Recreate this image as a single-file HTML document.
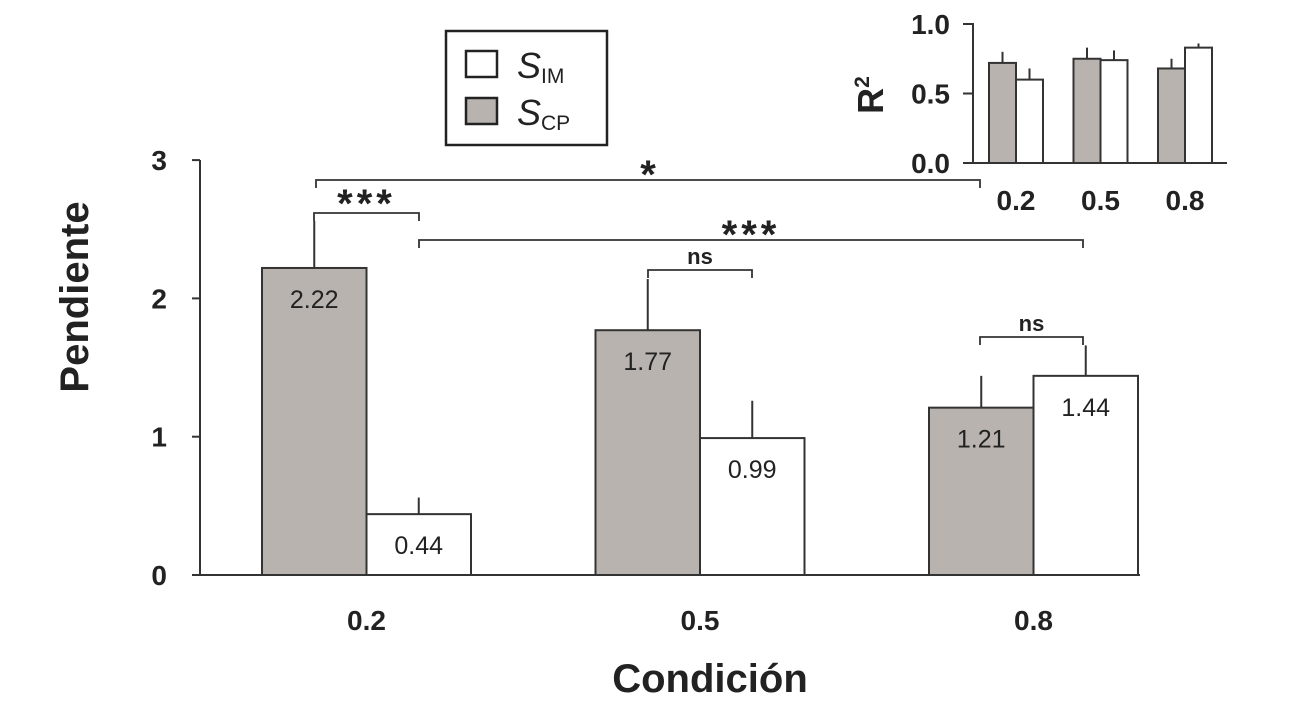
<!DOCTYPE html>
<html><head><meta charset="utf-8"><style>
body{margin:0;background:#fff;width:1315px;height:710px;overflow:hidden}
text{font-family:"Liberation Sans",Arial,sans-serif}
</style></head><body>
<svg id="c" width="1315" height="710"></svg>
<script>
const categories=["0.2","0.5","0.8"];
const scpValues=[2.22,1.77,1.21];
const simValues=[0.44,0.99,1.44];
const scpErr=[2.56,2.14,1.44];
const simErr=[0.56,1.26,1.66];
const yTicks=[0,1,2,3];
const r2Scp=[0.72,0.75,0.68];
const r2Sim=[0.60,0.74,0.83];
const r2ScpErr=[0.80,0.83,0.75];
const r2SimErr=[0.68,0.81,0.86];
const r2Ticks=["0.0","0.5","1.0"];
const svg=document.getElementById('c');
const NS="http://www.w3.org/2000/svg";
function mk(t,a,txt){const e=document.createElementNS(NS,t);for(const k in a)e.setAttribute(k,a[k]);if(txt!==undefined)e.textContent=txt;svg.appendChild(e);return e;}
const y=v=>575-v*138.3;
const gx=i=>262+i*333.5;
const bw=104.5;
const gray="#b8b3ae",stroke="#333";
let e=mk('line',{x1:200,y1:575,x2:1140,y2:575,stroke:stroke,'stroke-width':2});

e=mk('line',{x1:200,y1:160,x2:200,y2:575,stroke:stroke,'stroke-width':2});

yTicks.forEach(t=>{
 mk('line',{x1:192,y1:y(t),x2:200,y2:y(t),stroke:stroke,'stroke-width':2});
 e=mk('text',{x:167,y:y(t)+10,'font-size':28,'font-weight':'bold','text-anchor':'end',fill:'#222'},t);
 
});
categories.forEach((c,i)=>{
 const x0=gx(i);
 mk('line',{x1:x0+bw/2,y1:y(scpValues[i]),x2:x0+bw/2,y2:y(scpErr[i]),stroke:stroke,'stroke-width':2});
 mk('line',{x1:x0+bw*1.5,y1:y(simValues[i]),x2:x0+bw*1.5,y2:y(simErr[i]),stroke:stroke,'stroke-width':2});
 e=mk('rect',{x:x0,y:y(scpValues[i]),width:bw,height:575-y(scpValues[i]),fill:gray,stroke:stroke,'stroke-width':2});
 
 e=mk('rect',{x:x0+bw,y:y(simValues[i]),width:bw,height:575-y(simValues[i]),fill:'#fff',stroke:stroke,'stroke-width':2});
 
 e=mk('text',{x:x0+bw/2,y:y(scpValues[i])+40,'font-size':25,'text-anchor':'middle',fill:'#222'},scpValues[i].toFixed(2));
 
 e=mk('text',{x:x0+bw*1.5,y:Math.min(y(simValues[i])+40,560),'font-size':25,'text-anchor':'middle',fill:'#222'},simValues[i].toFixed(2));
 
 e=mk('text',{x:x0+bw,y:630,'font-size':28,'font-weight':'bold','text-anchor':'middle',fill:'#222'},c);
 
});
e=mk('text',{x:710,y:692,'font-size':40,'font-weight':'bold','text-anchor':'middle',fill:'#222'},'Condición');

e=mk('text',{x:0,y:0,'font-size':40,'font-weight':'bold','text-anchor':'middle',fill:'#222',transform:'translate(88,297) rotate(-90)'},'Pendiente');

function br(x1,x2,yy,lab,fs,dy,ls){
 mk('path',{d:`M${x1},${yy+8}V${yy}H${x2}V${yy+8}`,fill:'none',stroke:stroke,'stroke-width':1.8});
 e=mk('text',{x:(x1+x2)/2,y:yy+dy,'font-size':fs,'font-weight':'bold','text-anchor':'middle','letter-spacing':ls,fill:'#222'},lab);
 
}
br(316,980,180,'*',40,8,0);
br(314,419,213,'***',40,4,4);
br(419,1083,240,'***',40,8,4);
br(648,752,270,'ns',22,-6,0);
br(980,1083,337,'ns',22,-6,0);
e=mk('rect',{x:446,y:31,width:161,height:114,fill:'#fff',stroke:'#222','stroke-width':2.5});

mk('rect',{x:466,y:51,width:31,height:26,fill:'#fff',stroke:'#222','stroke-width':2.5});
mk('rect',{x:466,y:98,width:31,height:26,fill:gray,stroke:'#222','stroke-width':2.5});
e=mk('text',{x:517,y:78,'font-size':36,'font-style':'italic',fill:'#222'});
e.innerHTML='S<tspan font-size="21" font-style="normal" dy="5">IM</tspan>';

e=mk('text',{x:517,y:125,'font-size':36,'font-style':'italic',fill:'#222'});
e.innerHTML='S<tspan font-size="21" font-style="normal" dy="5">CP</tspan>';

const iy=v=>163-v*139;
const igx=i=>989+i*84.5;
const ibw=27;
mk('line',{x1:963,y1:163,x2:1227,y2:163,stroke:stroke,'stroke-width':2});
mk('path',{d:'M963,24H973V163',fill:'none',stroke:stroke,'stroke-width':2});
mk('line',{x1:963,y1:iy(0.5),x2:973,y2:iy(0.5),stroke:stroke,'stroke-width':2});
r2Ticks.forEach(t=>{
 e=mk('text',{x:950,y:iy(+t)+10,'font-size':28,'font-weight':'bold','text-anchor':'end',fill:'#222'},t);
 
});
e=mk('text',{x:0,y:0,'font-size':36,'font-weight':'bold','text-anchor':'middle',fill:'#222',transform:'translate(883,95) rotate(-90)'});
e.innerHTML='R<tspan font-size="21" dy="-14">2</tspan>';

categories.forEach((c,i)=>{
 const x0=igx(i);
 mk('line',{x1:x0+ibw/2,y1:iy(r2Scp[i]),x2:x0+ibw/2,y2:iy(r2ScpErr[i]),stroke:stroke,'stroke-width':2});
 mk('line',{x1:x0+ibw*1.5,y1:iy(r2Sim[i]),x2:x0+ibw*1.5,y2:iy(r2SimErr[i]),stroke:stroke,'stroke-width':2});
 e=mk('rect',{x:x0,y:iy(r2Scp[i]),width:ibw,height:163-iy(r2Scp[i]),fill:gray,stroke:stroke,'stroke-width':2});
 
 e=mk('rect',{x:x0+ibw,y:iy(r2Sim[i]),width:ibw,height:163-iy(r2Sim[i]),fill:'#fff',stroke:stroke,'stroke-width':2});
 
 e=mk('text',{x:x0+ibw,y:210,'font-size':28,'font-weight':'bold','text-anchor':'middle',fill:'#222'},c);
 
});
</script>
</body></html>
